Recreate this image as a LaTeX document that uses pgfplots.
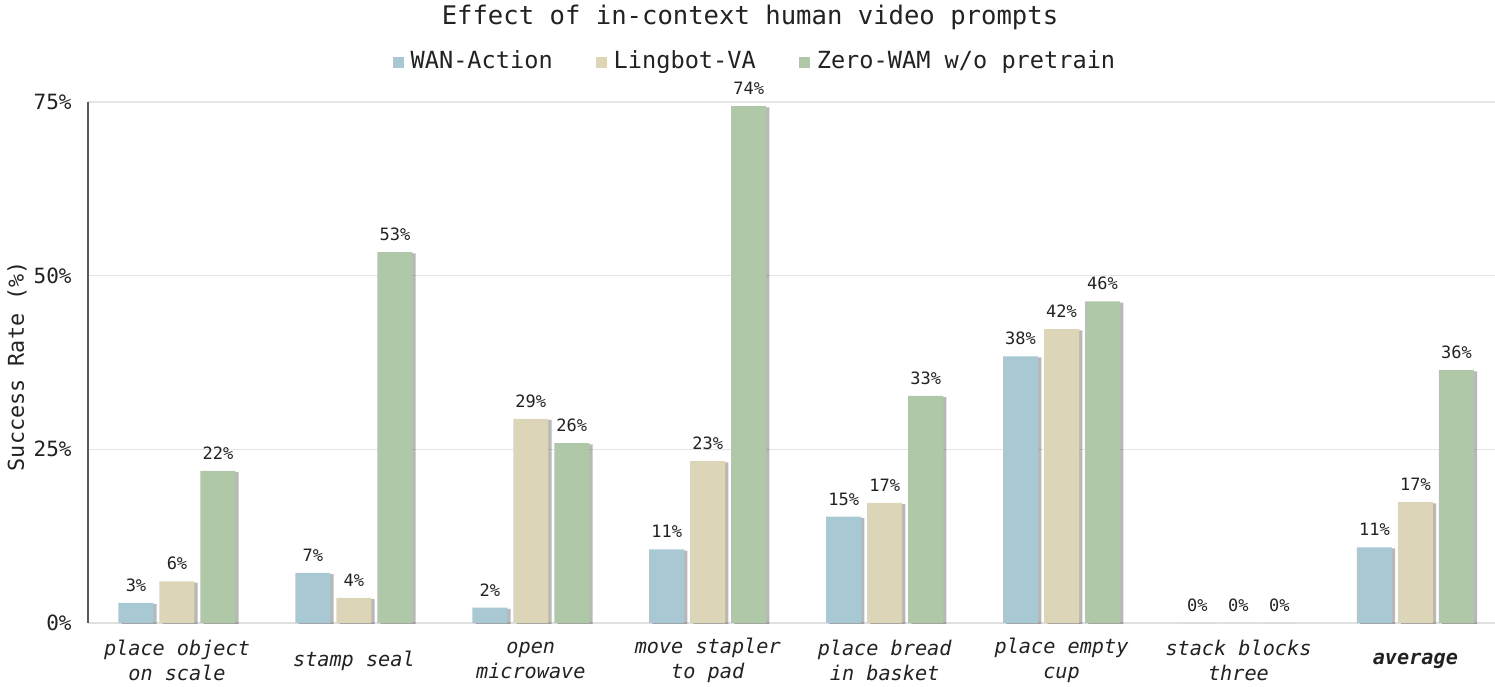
\documentclass[border=0pt]{standalone}
\usepackage{fontspec}
\setmainfont{DejaVu Sans Mono}
\usepackage{pgfplots}
\pgfplotsset{compat=1.18}
\usetikzlibrary{shadows}
\definecolor{wan}{HTML}{A8C8D4}
\definecolor{ling}{HTML}{DCD5B8}
\definecolor{zero}{HTML}{AFC8A8}
\definecolor{txt}{HTML}{222222}
\tikzset{barshadow/.style={drop shadow={shadow xshift=1.6pt, shadow yshift=-0.6pt, fill=black, opacity=0.28}}}
\begin{document}
\begin{tikzpicture}
\useasboundingbox (0,0) rectangle (747.5pt,343pt);
\begin{axis}[
  at={(44pt,31.5pt)}, anchor=south west,
  scale only axis, width=703.5pt, height=260.5pt,
  ybar, bar width=17.5pt,
  xmin=-0.503, xmax=7.45, ymin=0, ymax=75,
  xtick={0,1,2,3,4,5,6,7},
  xticklabels={{place object\\on scale},{stamp seal},{open\\microwave},{move stapler\\to pad},{place bread\\in basket},{place empty\\cup},{stack blocks\\three},{\bfseries average}},
  xticklabel style={anchor=center, yshift=-18.8pt, align=center, font=\fontsize{10.1}{12.5}\selectfont\itshape, text=txt},
  ytick={0,25,50,75},
  yticklabel={\pgfmathprintnumber{\tick}\%},
  yticklabel style={anchor=east, inner sep=0pt, xshift=-8pt, font=\fontsize{10.5}{12}\selectfont, text=txt},
  /pgf/number format/assume math mode=true,
  major tick length=0pt,
  ymajorgrids, grid style={draw=black!10, line width=0.6pt},
  axis lines*=left,
  x axis line style={draw=black!12, line width=0.8pt, -},
  y axis line style={draw=black!65, line width=0.7pt, -},
  ylabel={Success Rate (\%)},
  ylabel style={at={(axis description cs:-0.0505,0.493)}, anchor=center, font=\fontsize{10.9}{13}\selectfont, text=txt},
  title={Effect of in-context human video prompts},
  title style={at={(axis description cs:0.4705,1.140)}, anchor=center, font=\fontsize{12.8}{15}\selectfont, text=txt},
  legend style={at={(axis description cs:0.4733,1.0787)}, anchor=center, draw=none, fill=none,
    legend columns=-1, font=\fontsize{11.8}{14}\selectfont, text=txt, nodes={inner sep=0pt},
    /tikz/every even column/.append style={column sep=21.5pt},
    /tikz/every odd column/.append style={column sep=3.5pt}},
  legend image code/.code={\fill[#1] (0pt,-3.6pt) rectangle (5.5pt,1.9pt);},
  nodes near coords={\pgfmathprintnumber[fixed,precision=0]{\pgfplotspointmeta}\%},
  every node near coord/.append style={font=\fontsize{8.5}{10}\selectfont, text=txt, anchor=south, inner sep=0pt, yshift=5.5pt},
]
\addlegendimage{fill=wan, draw=none}
\addlegendimage{fill=ling, draw=none}
\addlegendimage{fill=zero, draw=none}
\addplot[forget plot, fill=wan, draw=none, bar shift=-20.5pt, barshadow] coordinates {(0,2.9) (1,7.2) (2,2.2) (3,10.6) (4,15.3) (5,38.4) (6,0) (7,10.9)};
\addplot[forget plot, fill=ling, draw=none, bar shift=0pt, barshadow] coordinates {(0,6.0) (1,3.6) (2,29.4) (3,23.3) (4,17.3) (5,42.3) (6,0) (7,17.4)};
\addplot[forget plot, fill=zero, draw=none, bar shift=20.5pt, barshadow] coordinates {(0,21.9) (1,53.4) (2,25.9) (3,74.4) (4,32.7) (5,46.3) (6,0) (7,36.4)};
\legend{WAN-Action, Lingbot-VA, Zero-WAM w/o pretrain}
\end{axis}
\end{tikzpicture}
\end{document}
